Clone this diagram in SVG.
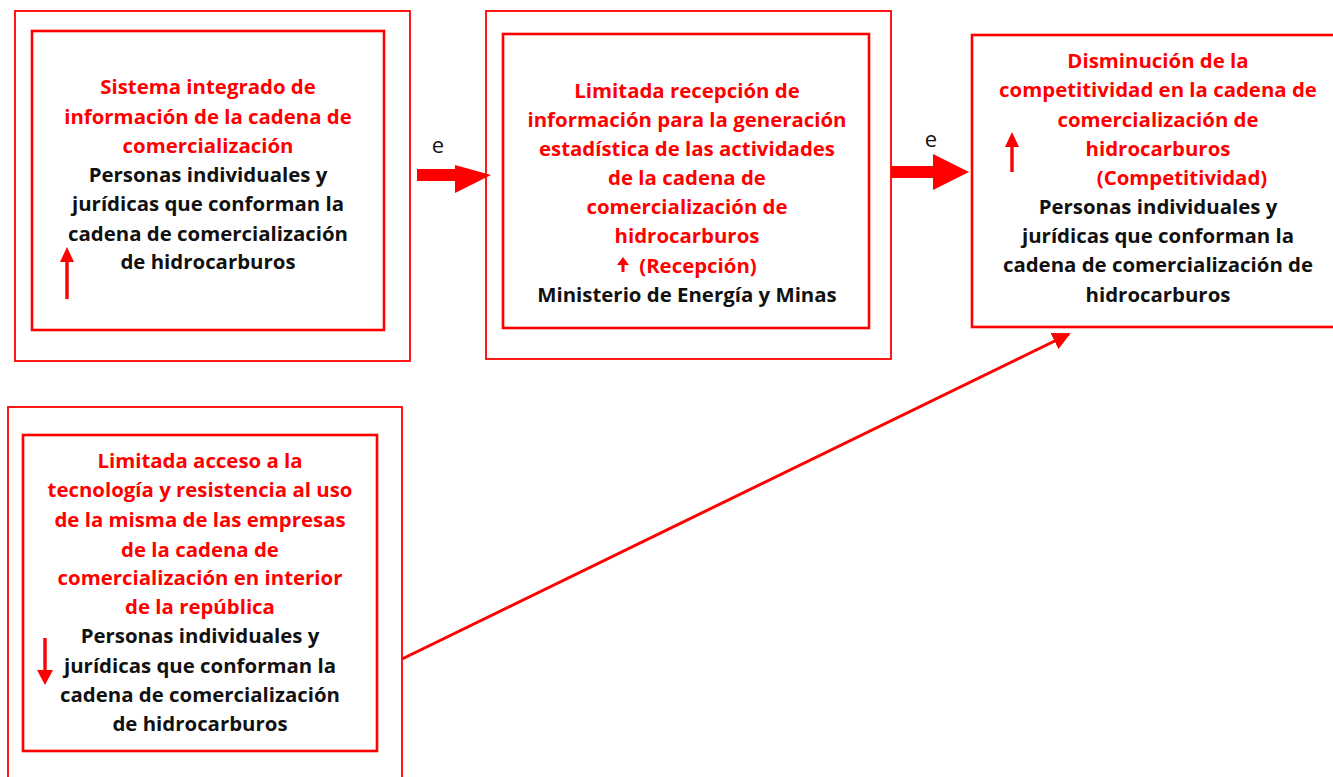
<svg xmlns="http://www.w3.org/2000/svg" width="1333" height="777" viewBox="0 0 1333 777">
<defs>
<style>
.o{fill:none;stroke:#ff0000;stroke-width:1.8}
.i{fill:none;stroke:#ff0000;stroke-width:2.6}
text{font-family:"Open Sans","Noto Sans",sans-serif;font-weight:bold;font-size:20.4px;text-anchor:middle}
.r{fill:#ff0000}
.k{fill:#111}
.e{font-family:"Open Sans","Liberation Sans",sans-serif;font-weight:normal;font-size:22px;fill:#111}
.a{fill:#ff0000;stroke:none}
</style>
<marker id="ah" viewBox="0 0 10 10" refX="9" refY="5" markerWidth="6" markerHeight="6" markerUnits="strokeWidth" orient="auto">
<path d="M0,0 L10,5 L0,10 z" fill="#ff0000"/>
</marker>
</defs>
<rect width="1333" height="777" fill="#fff"/>

<g id="node1">
<rect class="o" x="15" y="11" width="395" height="350"/>
<rect class="i" x="32" y="31" width="352" height="299"/>
<text class="r" x="208" y="94">Sistema integrado de</text>
<text class="r" x="208" y="124">información de la cadena de</text>
<text class="r" x="208" y="153">comercialización</text>
<text class="k" x="208" y="182">Personas individuales y</text>
<text class="k" x="208" y="211">jurídicas que conforman la</text>
<text class="k" x="208" y="241">cadena de comercialización</text>
<text class="k" x="208" y="269">de hidrocarburos</text>
<path class="a" d="M65.3,299 L65.3,262 L60,262 L67,247 L74,262 L68.7,262 L68.7,299 z"/>
</g>

<g id="node2">
<rect class="o" x="486" y="11" width="405" height="348"/>
<rect class="i" x="503" y="34" width="366" height="294"/>
<text class="r" x="687" y="98">Limitada recepción de</text>
<text class="r" x="687" y="127">información para la generación</text>
<text class="r" x="687" y="156">estadística de las actividades</text>
<text class="r" x="687" y="185">de la cadena de</text>
<text class="r" x="687" y="214">comercialización de</text>
<text class="r" x="687" y="243">hidrocarburos</text>
<text class="r" x="698" y="273">(Recepción)</text>
<text class="k" x="687" y="302">Ministerio de Energía y Minas</text>
<path class="a" d="M621.5,272 L621.5,265 L617,265 L623,257 L629,265 L624.5,265 L624.5,272 z"/>
</g>

<g id="node3">
<rect class="i" x="972" y="35" width="370" height="292"/>
<text class="r" x="1158" y="68">Disminución de la</text>
<text class="r" x="1158" y="97">competitividad en la cadena de</text>
<text class="r" x="1158" y="127">comercialización de</text>
<text class="r" x="1158" y="156">hidrocarburos</text>
<text class="r" x="1182" y="185">(Competitividad)</text>
<text class="k" x="1158" y="214">Personas individuales y</text>
<text class="k" x="1158" y="243">jurídicas que conforman la</text>
<text class="k" x="1158" y="272">cadena de comercialización de</text>
<text class="k" x="1158" y="302">hidrocarburos</text>
<path class="a" d="M1010.3,172 L1010.3,147 L1005,147 L1012,132 L1019,147 L1013.7,147 L1013.7,172 z"/>
</g>

<g id="node4">
<rect class="o" x="8" y="407" width="394" height="380"/>
<rect class="i" x="23" y="435" width="354" height="316"/>
<text class="r" x="200" y="468">Limitada acceso a la</text>
<text class="r" x="200" y="497">tecnología y resistencia al uso</text>
<text class="r" x="200" y="527">de la misma de las empresas</text>
<text class="r" x="200" y="557">de la cadena de</text>
<text class="r" x="200" y="585">comercialización en interior</text>
<text class="r" x="200" y="614">de la república</text>
<text class="k" x="200" y="643">Personas individuales y</text>
<text class="k" x="200" y="673">jurídicas que conforman la</text>
<text class="k" x="200" y="702">cadena de comercialización</text>
<text class="k" x="200" y="731">de hidrocarburos</text>
<path class="a" d="M43.3,638 L43.3,670 L37,670 L45,685 L53,670 L46.7,670 L46.7,638 z"/>
</g>

<g id="connectors">
<path class="a" d="M417,169 L455,169 L455,165 L491,175 L455,193 L455,181 L417,181 z"/>
<text class="e" x="438" y="153">e</text>
<path class="a" d="M891,166 L933,166 L933,154 L969,172 L933,190 L933,178 L891,178 z"/>
<text class="e" x="931" y="147">e</text>
<line x1="402" y1="659" x2="1069" y2="334" stroke="#ff0000" stroke-width="3" marker-end="url(#ah)"/>
</g>
</svg>
